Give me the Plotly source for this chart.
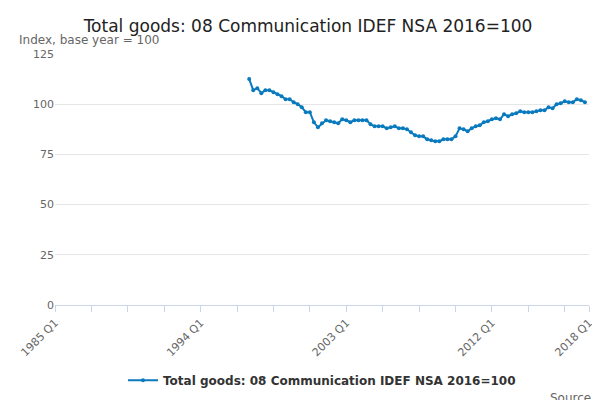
import plotly.graph_objects as go

series_name = "Total goods: 08 Communication IDEF NSA 2016=100"
start_year = 1997
values = [
    112.5, 107, 108, 105.5,
    107, 107, 106, 105,
    104, 102.5, 102.5, 101,
    100, 98.5, 96, 96,
    91, 88.5, 90.5, 92,
    91.5, 91, 90.5, 92.5,
    92, 91, 92, 92,
    92, 92, 90, 89,
    89, 89, 88, 88.5,
    89, 88, 88, 87.5,
    86, 84.5, 84, 84,
    82.5, 82, 81.5, 81.5,
    82.5, 82.5, 82.5, 84,
    88, 87.5, 86.5, 88,
    89, 89.5, 91, 91.5,
    92.5, 93, 92.5, 95,
    94, 95, 95.5, 96.5,
    96, 96, 96, 96.5,
    97, 97, 98.5, 98,
    100, 100.5, 101.5, 101,
    101, 102.5, 102, 101,
]
x = [start_year + i / 4 for i in range(len(values))]
labels = [f"{int(v)} Q{int(round((v % 1) * 4)) + 1}" for v in x]

tick_vals = [1985 + 2.25 * k for k in range(15)] + [2018]
label_years = {1985: "1985 Q1", 1994: "1994 Q1", 2003: "2003 Q1", 2012: "2012 Q1", 2018: "2018 Q1"}
tick_text = [label_years.get(v, "") for v in tick_vals]

fig = go.Figure(go.Scatter(
    x=x, y=values, mode="lines+markers", name=series_name,
    line=dict(color="#0a7abf", width=2), marker=dict(size=4, color="#0a7abf"),
    text=labels, hovertemplate="%{text}: %{y}<extra></extra>",
))

fig.update_layout(
    width=600, height=400,
    title=dict(text=series_name, x=0.5, y=0.955, xanchor="center", yanchor="middle",
               yref="container", font=dict(size=17, color="#222")),
    font=dict(family="DejaVu Sans", color="#555"),
    plot_bgcolor="white", paper_bgcolor="white",
    margin=dict(l=47, r=19, t=46, b=103, autoexpand=False),
    showlegend=True,
    legend=dict(orientation="h", x=0.5, xanchor="center", y=-0.30, yanchor="middle",
                font=dict(size=12, color="#333", weight="bold")),
    annotations=[
        dict(text="Index, base year = 100", x=0, xref="paper", xanchor="left",
             y=1.056, yref="paper", yanchor="middle", xshift=-38, showarrow=False,
             font=dict(size=12, color="#666")),
        dict(text="Source:", x=1, xref="paper", xanchor="right", y=-0.37, yref="paper",
             yanchor="middle", xshift=8, showarrow=False, font=dict(size=12, color="#666")),
    ],
)
fig.update_xaxes(range=[1985, 2018], tickvals=tick_vals, ticktext=tick_text,
                 tickangle=-45, ticks="outside", ticklen=6, tickcolor="#ccd6eb",
                 showgrid=False, showline=True, linecolor="#ccd6eb", automargin=False,
                 tickfont=dict(size=11, color="#666"))
fig.update_yaxes(range=[0, 125], tickvals=[0, 25, 50, 75, 100, 125], automargin=False,
                 gridcolor="#e6e6e6", zeroline=False, tickfont=dict(size=11, color="#666"))

fig.write_html("out.html")
